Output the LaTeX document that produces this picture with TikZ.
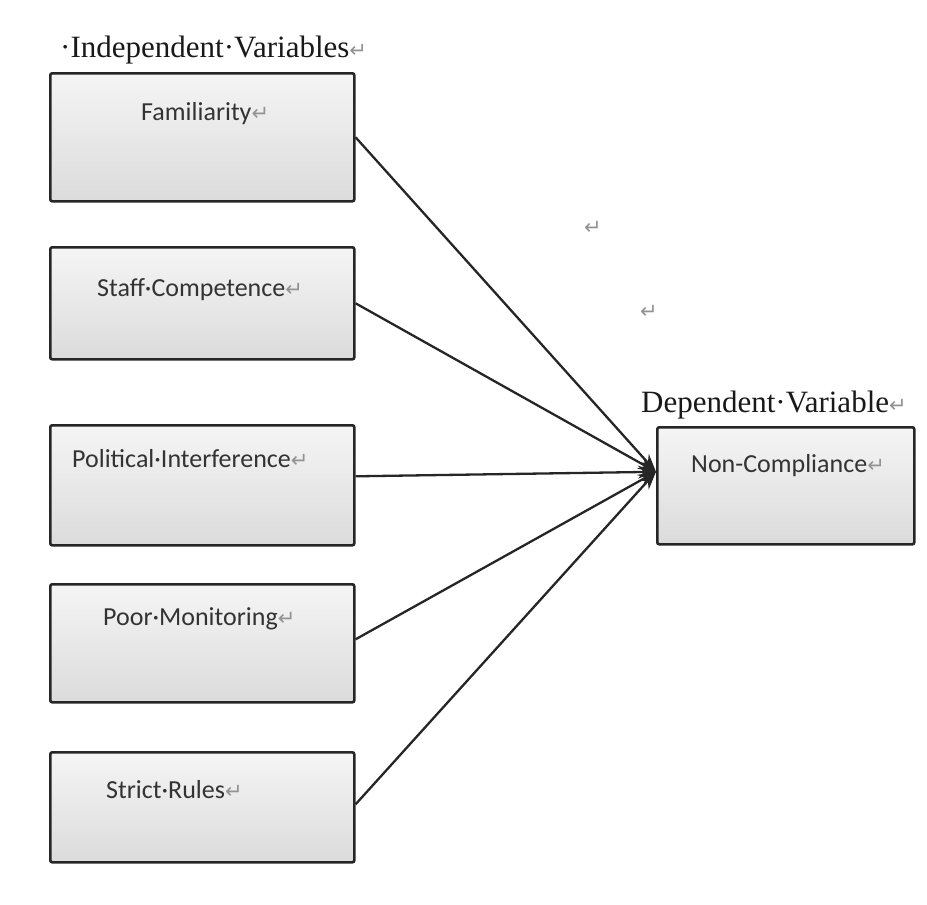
\documentclass[tikz,border=0pt]{standalone}
\usepackage{fontspec}
\setmainfont{Liberation Serif}
\newfontfamily\boxfont{Carlito}
\newfontfamily\symfont{DejaVu Sans}
\usetikzlibrary{arrows.meta}
\newcommand{\retmark}{{\symfont\fontsize{21}{21}\selectfont\textcolor{gray!85}{↵}}}
\tikzset{
  varbox/.style={draw=gray!30!black, line width=2.6pt, rounded corners=2pt,
    top color=gray!8, bottom color=gray!28, inner sep=0pt, anchor=north west},
  boxtext/.style={anchor=base west, inner sep=0pt, text=black!80,
    font=\boxfont\fontsize{26}{26}\selectfont},
  headtext/.style={anchor=base west, inner sep=0pt, text=black!90,
    font=\fontsize{31}{31}\selectfont},
  link/.style={draw=black!85, line width=2.3pt,
    -{Stealth[length=18pt,width=13pt]}},
  stray/.style={inner sep=0pt}
}
\begin{document}
\begin{tikzpicture}[x=1pt,y=-1pt]
\useasboundingbox (0,0) rectangle (927,905);

% column headings
\node[headtext] (hind) at (60,57) {·Independent·Variables\retmark};
\node[headtext] (hdep) at (641,412) {Dependent·Variable\retmark};

% independent variable boxes
\node[varbox, minimum width=304pt, minimum height=128pt] (fam) at (49,72) {};
\node[varbox, minimum width=304pt, minimum height=112pt] (staff) at (49,246) {};
\node[varbox, minimum width=304pt, minimum height=120pt] (pol) at (49,424) {};
\node[varbox, minimum width=304pt, minimum height=118pt] (poor) at (49,583) {};
\node[varbox, minimum width=304pt, minimum height=110pt] (strict) at (49,751) {};

% dependent variable box
\node[varbox, minimum width=257pt, minimum height=117pt] (nc) at (656,426) {};

% box captions
\node[boxtext] (tfam) at (141,120) {Familiarity\retmark};
\node[boxtext] (tstaff) at (97,296) {Staff·Competence\retmark};
\node[boxtext] (tpol) at (72,467) {Political·Interference\retmark};
\node[boxtext] (tpoor) at (103,625) {Poor·Monitoring\retmark};
\node[boxtext] (tstrict) at (106,798) {Strict·Rules\retmark};
\node[boxtext] (tnc) at (691,472) {Non-Compliance\retmark};

% stray paragraph marks
\node[stray] (m1) at (593,228) {\retmark};
\node[stray] (m2) at (649,312) {\retmark};

% converging arrows
\coordinate (tip) at ([yshift=14pt]nc.west);
\draw[link] (fam.east) -- (tip);
\draw[link] (staff.east) -- (tip);
\draw[link] ([yshift=9pt]pol.east) -- (tip);
\draw[link] ([yshift=4pt]poor.east) -- (tip);
\draw[link] ([yshift=3pt]strict.east) -- (tip);
\end{tikzpicture}
\end{document}
